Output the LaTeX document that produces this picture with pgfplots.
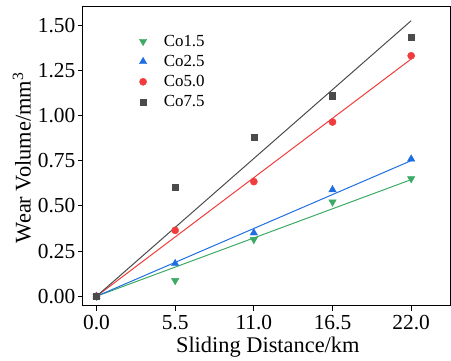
\documentclass[border=0pt]{standalone}
\usepackage{pgfplots}
\pgfplotsset{compat=1.18}
\usepackage{fontspec}
\setmainfont{Liberation Serif}
\definecolor{cg}{RGB}{60,170,100}
\definecolor{cb}{RGB}{30,110,225}
\definecolor{cr}{RGB}{240,60,60}
\definecolor{ck}{RGB}{75,75,75}
\begin{document}
\begin{tikzpicture}
\begin{axis}[
  scale only axis, width=368bp, height=299bp,
  xmin=-0.95, xmax=24.75, ymin=-0.052, ymax=1.602,
  xtick={0,5.5,11,16.5,22}, xticklabels={0.0,5.5,11.0,16.5,22.0},
  ytick={0,0.25,0.5,0.75,1,1.25,1.5},
  yticklabels={0.00,0.25,0.50,0.75,1.00,1.25,1.50},
  xtick pos=bottom, ytick pos=left, tick align=outside,
  major tick length=5bp,
  axis line style={line width=1pt}, tick style={line width=1pt, black},
  /pgf/number format/assume math mode=true,
  ticklabel style={font=\fontsize{21.5}{21.5}\selectfont},
  xticklabel style={yshift=-1bp},
  yticklabel style={xshift=1bp},
  xlabel={Sliding Distance/km}, ylabel={Wear Volume/mm\textsuperscript{3}},
  label style={font=\fontsize{22.5}{22.5}\selectfont},
  xlabel style={at={(axis description cs:0.503,-0.14)}, anchor=center},
  ylabel style={at={(axis description cs:-0.166,0.495)}, anchor=center},
  legend style={draw=none, fill=none, at={(0.145,0.92)}, anchor=north west,
    font=\fontsize{17}{17}\selectfont, row sep=3.5bp,
    /tikz/every odd column/.append style={column sep=15bp}},
  legend cell align=left,
]
\addplot[forget plot, cg, line width=1pt] coordinates {(0,0) (22,0.646)};
\addplot[forget plot, cb, line width=1pt] coordinates {(0,0) (22,0.751)};
\addplot[forget plot, cr, line width=1pt] coordinates {(0,0) (22,1.314)};
\addplot[forget plot, ck, line width=1pt] coordinates {(0,0) (22,1.526)};
\addplot[only marks, mark=triangle*, mark size=4.3pt, color=cg, mark options={rotate=180}]
  coordinates {(0,0) (5.5,0.087) (11,0.314) (16.5,0.522) (22,0.651)};
\addlegendentry{Co1.5}
\addplot[only marks, mark=triangle*, mark size=4.3pt, color=cb]
  coordinates {(0,0) (5.5,0.181) (11,0.351) (16.5,0.59) (22,0.76)};
\addlegendentry{Co2.5}
\addplot[only marks, mark=*, mark size=3.6pt, color=cr]
  coordinates {(0,0) (5.5,0.365) (11,0.635) (16.5,0.965) (22,1.332)};
\addlegendentry{Co5.0}
\addplot[only marks, mark=square*, mark size=3.1pt, color=ck]
  coordinates {(0,0) (5.5,0.605) (11,0.88) (16.5,1.111) (22,1.436)};
\addlegendentry{Co7.5}
\end{axis}
\path ([xshift=-83bp,yshift=-54bp]current axis.south west) rectangle ([yshift=7bp]current axis.north east);
\end{tikzpicture}
\end{document}
